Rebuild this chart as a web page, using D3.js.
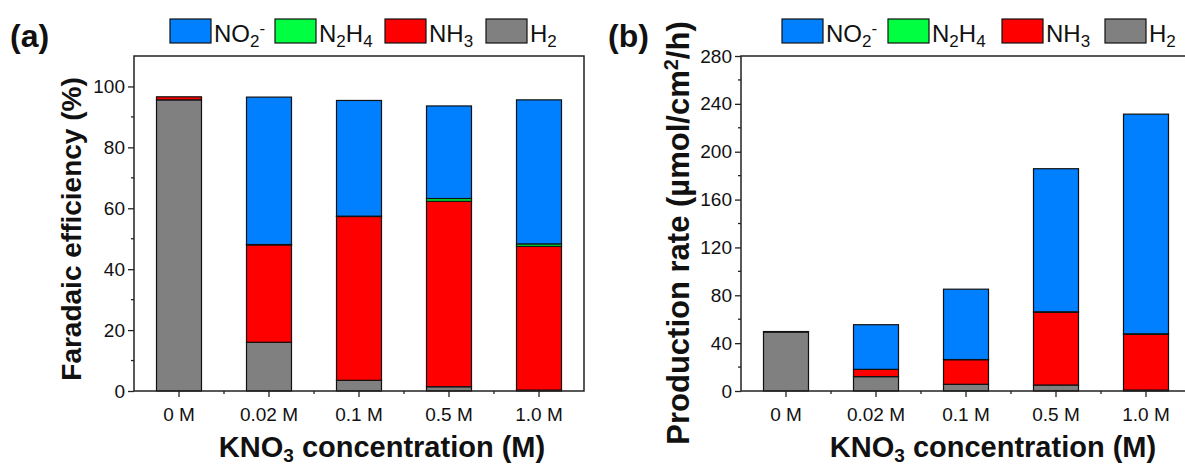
<!DOCTYPE html>
<html>
<head>
<meta charset="utf-8">
<script src="https://cdn.jsdelivr.net/npm/d3@7"></script>
<style>
  body { margin: 0; background: #fff; }
  svg { display: block; }
  text { font-family: "Liberation Sans", Arial, sans-serif; fill: #111; }
</style>
</head>
<body>
<svg id="chart" width="1185" height="466"></svg>
<script>
// KNO3 concentrations on the x axis
const categories = ["0 M", "0.02 M", "0.1 M", "0.5 M", "1.0 M"];

// Faradaic efficiency (%) per product
const feH2   = [95.6, 16.0, 3.5, 1.4, 0.3];
const feNH3  = [1.0, 32.0, 53.8, 60.9, 47.2];
const feN2H4 = [0.0, 0.1, 0.1, 0.9, 0.8];
const feNO2  = [0.0, 48.4, 38.0, 30.4, 47.3];

// Production rate (µmol/cm²/h) per product
const rateH2   = [49.3, 12.0, 5.6, 5.0, 0.8];
const rateNH3  = [0.4, 6.1, 20.6, 60.8, 46.6];
const rateN2H4 = [0.0, 0.0, 0.1, 0.4, 0.4];
const rateNO2  = [0.0, 37.3, 58.8, 119.6, 183.6];

const feTicks = [0, 20, 40, 60, 80, 100];
const feMinor = [10, 30, 50, 70, 90];
const rateTicks = [0, 40, 80, 120, 160, 200, 240, 280];
const rateMinor = [20, 60, 100, 140, 180, 220, 260];

// stacking order, bottom to top
const stackKeys = ["H2", "NH3", "N2H4", "NO2"];
const colors = { NO2: "#0080ff", N2H4: "#00ff40", NH3: "#ff0000", H2: "#808080" };

const svg = d3.select("#chart");

function buildRows(h2, nh3, n2h4, no2) {
  return categories.map((c, i) => ({ cat: c, H2: h2[i], NH3: nh3[i], N2H4: n2h4[i], NO2: no2[i] }));
}

function drawPanel(cfg) {
  const g = svg.append("g");
  const x = d3.scaleBand().domain(categories).range([cfg.x0, cfg.x0 + 450]).paddingInner(0.5).paddingOuter(0.25);
  const y = d3.scaleLinear().domain([0, cfg.yMax]).range([391, 56]);

  const stacked = d3.stack().keys(stackKeys)(cfg.rows);

  // bars
  stacked.forEach(layer => {
    g.append("g").selectAll("rect").data(layer).join("rect")
      .attr("x", d => x(d.data.cat))
      .attr("width", x.bandwidth())
      .attr("y", d => y(d[1]))
      .attr("height", d => Math.max(0, y(d[0]) - y(d[1])))
      .attr("fill", colors[layer.key])
      .attr("stroke", "#111")
      .attr("stroke-width", 1.2)
      .attr("display", d => (d[1] - d[0]) > 0 ? null : "none");
  });

  // y axis
  const yAxis = d3.axisLeft(y).tickValues(cfg.ticks).tickSize(6).tickPadding(3);
  const ya = g.append("g").attr("transform", `translate(${cfg.x0},0)`).call(yAxis);
  ya.select(".domain").remove();
  ya.selectAll("text").attr("font-size", 19).attr("fill", "#111").style("font-family", '"Liberation Sans", Arial, sans-serif');
  ya.selectAll("line").attr("stroke", "#222").attr("stroke-width", 1.3);
  g.append("g").selectAll("line").data(cfg.minor).join("line")
    .attr("x1", cfg.x0 - 3).attr("x2", cfg.x0)
    .attr("y1", d => y(d)).attr("y2", d => y(d))
    .attr("stroke", "#222").attr("stroke-width", 1.3);

  // x axis
  const xAxis = d3.axisBottom(x).tickSize(6).tickPadding(11);
  const xa = g.append("g").attr("transform", "translate(0,391)").call(xAxis);
  xa.select(".domain").remove();
  xa.selectAll("text").attr("font-size", 19).attr("fill", "#111").style("font-family", '"Liberation Sans", Arial, sans-serif');
  xa.selectAll("line").attr("stroke", "#222").attr("stroke-width", 1.3);
  const step = x.step();
  const bounds = categories.slice(1).map(c => x(c) - (step - x.bandwidth()) / 2);
  g.append("g").selectAll("line").data(bounds).join("line")
    .attr("x1", d => d).attr("x2", d => d)
    .attr("y1", 391).attr("y2", 394)
    .attr("stroke", "#222").attr("stroke-width", 1.3);

  // frame
  const x1 = cfg.x0 + 450;
  g.append("path")
    .attr("d", `M${cfg.x0},391V56H${x1}V391H${cfg.x0}`)
    .attr("fill", "none").attr("stroke", "#222").attr("stroke-width", 1.5);

  // panel letter
  g.append("text").attr("x", cfg.letterX).attr("y", 47)
    .attr("font-size", 32).attr("font-weight", "bold").text(cfg.letter);

  // x title
  const xt = g.append("text").attr("x", cfg.xTitleX).attr("y", 457)
    .attr("text-anchor", "middle").attr("font-size", 29).attr("font-weight", "bold");
  xt.append("tspan").text("KNO");
  xt.append("tspan").attr("font-size", 19).attr("dy", 5).text("3");
  xt.append("tspan").attr("dy", -5).text(" concentration (M)");

  // y title
  const yt = g.append("text")
    .attr("transform", `translate(${cfg.yTitleX},${cfg.yTitleY}) rotate(-90)`)
    .attr("text-anchor", "middle").attr("font-size", cfg.yTitleSize).attr("font-weight", "bold");
  cfg.yTitle(yt);

  // legend
  const legendItems = [
    { key: "NO2", parts: [["NO", 0, 24], ["2", 5, 17], ["-", -13, 17]] },
    { key: "N2H4", parts: [["N", 0, 24], ["2", 5, 17], ["H", -5, 24], ["4", 5, 17]] },
    { key: "NH3", parts: [["NH", 0, 24], ["3", 5, 17]] },
    { key: "H2", parts: [["H", 0, 24], ["2", 5, 17]] }
  ];
  legendItems.forEach((item, i) => {
    const lx = cfg.legendX[i];
    g.append("rect").attr("x", lx).attr("y", 19).attr("width", 41).attr("height", 24)
      .attr("fill", colors[item.key]).attr("stroke", "#111").attr("stroke-width", 1.2);
    const t = g.append("text").attr("x", lx + 44).attr("y", 42);
    item.parts.forEach(p => t.append("tspan").attr("dy", p[1]).attr("font-size", p[2]).text(p[0]));
  });
}

drawPanel({
  x0: 134, yMax: 110, ticks: feTicks, minor: feMinor,
  rows: buildRows(feH2, feNH3, feN2H4, feNO2),
  letter: "(a)", letterX: 10, xTitleX: 382,
  yTitleX: 81, yTitleY: 229, yTitleSize: 28,
  yTitle: t => t.text("Faradaic efficiency (%)"),
  legendX: [170, 275, 385, 486]
});

drawPanel({
  x0: 741, yMax: 280, ticks: rateTicks, minor: rateMinor,
  rows: buildRows(rateH2, rateNH3, rateN2H4, rateNO2),
  letter: "(b)", letterX: 608, xTitleX: 993,
  yTitleX: 689, yTitleY: 233, yTitleSize: 31,
  yTitle: t => {
    t.append("tspan").text("Production rate (µmol/cm");
    t.append("tspan").attr("font-size", 20).attr("dy", -11).text("2");
    t.append("tspan").attr("dy", 11).text("/h)");
  },
  legendX: [782, 888, 1002, 1105]
});
</script>
</body>
</html>
